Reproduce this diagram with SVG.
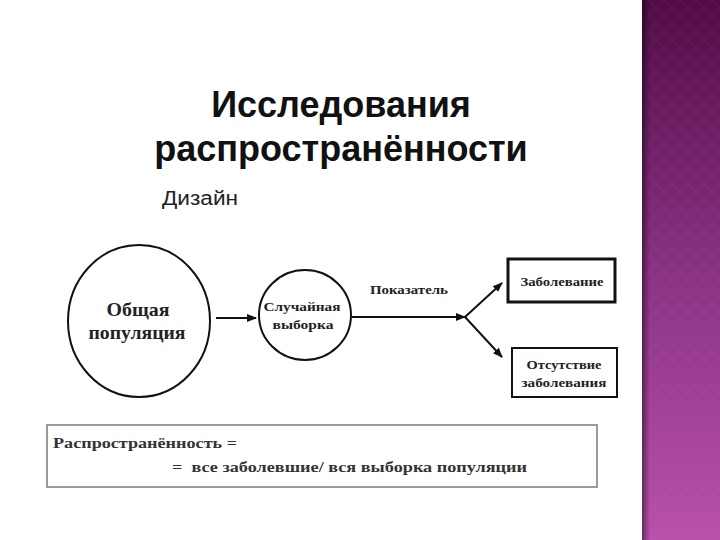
<svg xmlns="http://www.w3.org/2000/svg" width="720" height="540" viewBox="0 0 720 540">
<defs>
<style>
.title{font-family:"Liberation Sans",Arial,sans-serif;font-weight:bold;font-size:36px;fill:#111;text-anchor:middle}
.sub{font-family:"Liberation Sans",Arial,sans-serif;font-size:20px;fill:#222}
.lbl{font-family:"Liberation Serif","Times New Roman",serif;font-weight:bold;fill:#222;text-anchor:middle}
.ln{stroke:#111;stroke-width:2;fill:none}
.formula{font-family:"Liberation Serif","Times New Roman",serif;font-weight:bold;font-size:15px;fill:#333}
</style>
<linearGradient id="bar" x1="0" y1="0" x2="0" y2="1">
<stop offset="0" stop-color="#520c48"/>
<stop offset="0.5" stop-color="#8a3282"/>
<stop offset="1" stop-color="#b850ac"/>
</linearGradient>
<linearGradient id="shade" x1="0" y1="0" x2="1" y2="0">
<stop offset="0" stop-color="#000" stop-opacity="0.45"/>
<stop offset="1" stop-color="#000" stop-opacity="0"/>
</linearGradient>
<pattern id="diam" width="16" height="16" patternUnits="userSpaceOnUse">
<path d="M8 0L16 8L8 16L0 8Z" fill="none" stroke="#ffffff" stroke-opacity="0.04" stroke-width="1"/>
</pattern>
<marker id="arr" viewBox="0 0 10 10" refX="9" refY="5" markerWidth="5" markerHeight="5" orient="auto">
<path d="M0 1L10 5L0 9Z" fill="#111"/>
</marker>
</defs>
<rect width="720" height="540" fill="#ffffff"/>
<g id="sidebar">
<rect x="642" y="0" width="78" height="540" fill="url(#bar)"/>
<rect x="642" y="0" width="78" height="540" fill="url(#diam)"/>
<rect x="642" y="0" width="8" height="540" fill="url(#shade)"/>
</g>
<g id="title">
<text class="title" x="341" y="117">Исследования</text>
<text class="title" x="341" y="161">распространённости</text>
<text class="sub" x="162" y="205" textLength="76" lengthAdjust="spacingAndGlyphs">Дизайн</text>
</g>
<g id="connectors">
<line class="ln" x1="216" y1="318" x2="256" y2="318" marker-end="url(#arr)"/>
<line class="ln" x1="352" y1="317" x2="465" y2="317" marker-end="url(#arr)"/>
<line class="ln" x1="465" y1="317" x2="502" y2="283" marker-end="url(#arr)"/>
<line class="ln" x1="465" y1="317" x2="502" y2="357" marker-end="url(#arr)"/>
<text class="lbl" x="409" y="294" font-size="13" textLength="78" lengthAdjust="spacingAndGlyphs">Показатель</text>
</g>
<g id="node-population">
<ellipse cx="139" cy="321" rx="71" ry="76" fill="#fff" stroke="#111" stroke-width="2"/>
<text class="lbl" x="138" y="316" font-size="19" textLength="63" lengthAdjust="spacingAndGlyphs">Общая</text>
<text class="lbl" x="137" y="339" font-size="19" textLength="97" lengthAdjust="spacingAndGlyphs">популяция</text>
</g>
<g id="node-sample">
<ellipse cx="305" cy="315" rx="46" ry="45" fill="#fff" stroke="#111" stroke-width="2"/>
<text class="lbl" x="302" y="311" font-size="13" textLength="77" lengthAdjust="spacingAndGlyphs">Случайная</text>
<text class="lbl" x="303" y="329" font-size="13" textLength="61" lengthAdjust="spacingAndGlyphs">выборка</text>
</g>
<g id="node-disease">
<rect x="508" y="259" width="107" height="43" fill="#fff" stroke="#111" stroke-width="3"/>
<text class="lbl" x="562" y="286" font-size="13" textLength="83" lengthAdjust="spacingAndGlyphs">Заболевание</text>
</g>
<g id="node-nodisease">
<rect x="512" y="348" width="105" height="49" fill="#fff" stroke="#111" stroke-width="2"/>
<text class="lbl" x="564" y="369" font-size="13" textLength="75" lengthAdjust="spacingAndGlyphs">Отсутствие</text>
<text class="lbl" x="564" y="387" font-size="13" textLength="85" lengthAdjust="spacingAndGlyphs">заболевания</text>
</g>
<g id="formula">
<rect x="47" y="425" width="550" height="62" fill="#fff" stroke="#9a9a9a" stroke-width="2"/>
<text class="formula" x="53" y="448" textLength="184" lengthAdjust="spacingAndGlyphs">Распространённость =</text>
<text class="formula" x="172" y="472" xml:space="preserve" textLength="355" lengthAdjust="spacingAndGlyphs">=  все заболевшие/ вся выборка популяции</text>
</g>
</svg>
